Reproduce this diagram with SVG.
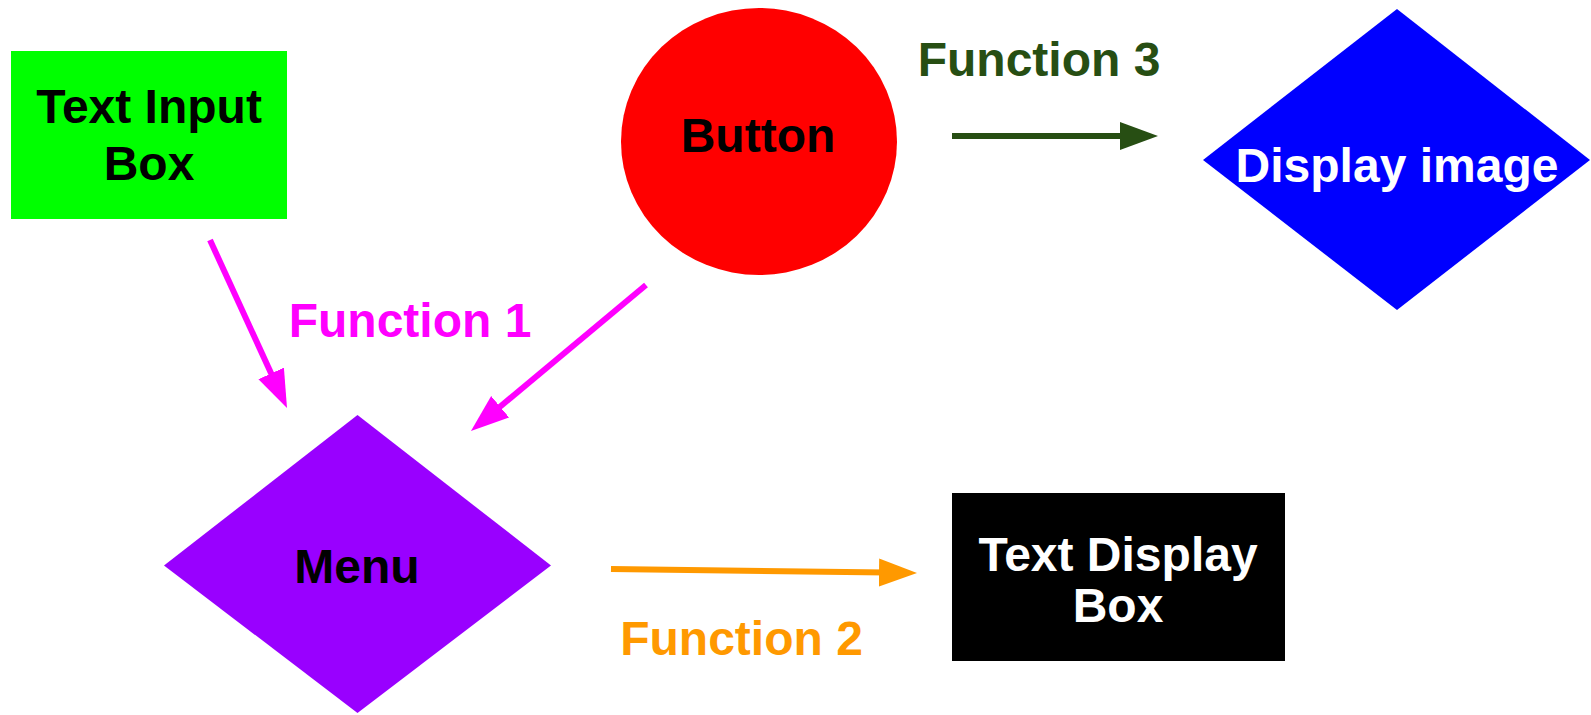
<svg xmlns="http://www.w3.org/2000/svg" width="1591" height="715" viewBox="0 0 1591 715">
<style>
text{font-family:"Liberation Sans",Arial,sans-serif;font-weight:bold;font-size:48px;text-anchor:middle}
.conn{stroke-width:6;fill:none}
</style>
<defs>
<marker id="ahM" markerUnits="userSpaceOnUse" markerWidth="40" markerHeight="30" refX="8" refY="14" orient="auto" viewBox="0 0 40 30"><path d="M0,0 L38,14 L0,28 z" fill="#ff00ff"/></marker>
<marker id="ahO" markerUnits="userSpaceOnUse" markerWidth="40" markerHeight="30" refX="8" refY="14" orient="auto" viewBox="0 0 40 30"><path d="M0,0 L38,14 L0,28 z" fill="#ff9900"/></marker>
<marker id="ahG" markerUnits="userSpaceOnUse" markerWidth="40" markerHeight="30" refX="8" refY="14" orient="auto" viewBox="0 0 40 30"><path d="M0,0 L38,14 L0,28 z" fill="#274e13"/></marker>
</defs>
<rect width="1591" height="715" fill="#ffffff"/>
<g id="connectors">
<line class="conn" x1="210" y1="240" x2="274.5" y2="380.7" stroke="#ff00ff" marker-end="url(#ahM)"/>
<line class="conn" x1="646" y1="285" x2="494" y2="411.8" stroke="#ff00ff" marker-end="url(#ahM)"/>
<line class="conn" x1="611" y1="569" x2="887" y2="572.6" stroke="#ff9900" marker-end="url(#ahO)"/>
<line class="conn" x1="952" y1="136" x2="1128" y2="136" stroke="#274e13" marker-end="url(#ahG)"/>
<text x="410" y="337" fill="#ff00ff">Function 1</text>
<text x="741.5" y="655" fill="#ff9900">Function 2</text>
<text x="1039" y="76" fill="#274e13">Function 3</text>
</g>
<g id="text-input-box">
<rect x="11" y="51" width="276" height="168" fill="#00ff00"/>
<text x="149" y="123" fill="#000000">Text Input</text>
<text x="149" y="180" fill="#000000">Box</text>
</g>
<g id="button">
<ellipse cx="759" cy="141.5" rx="138" ry="133.5" fill="#ff0000"/>
<text x="758" y="152" fill="#000000">Button</text>
</g>
<g id="display-image">
<polygon points="1397,9 1590,160 1397,310 1203,160" fill="#0000ff"/>
<text x="1397" y="182" fill="#ffffff">Display image</text>
</g>
<g id="menu">
<polygon points="357.5,415 551,565.5 357.5,713 164,565.5" fill="#9900ff"/>
<text x="357" y="583" fill="#000000">Menu</text>
</g>
<g id="text-display-box">
<rect x="952" y="493" width="333" height="168" fill="#000000"/>
<text x="1118" y="571" fill="#ffffff">Text Display</text>
<text x="1118" y="622" fill="#ffffff">Box</text>
</g>
</svg>
